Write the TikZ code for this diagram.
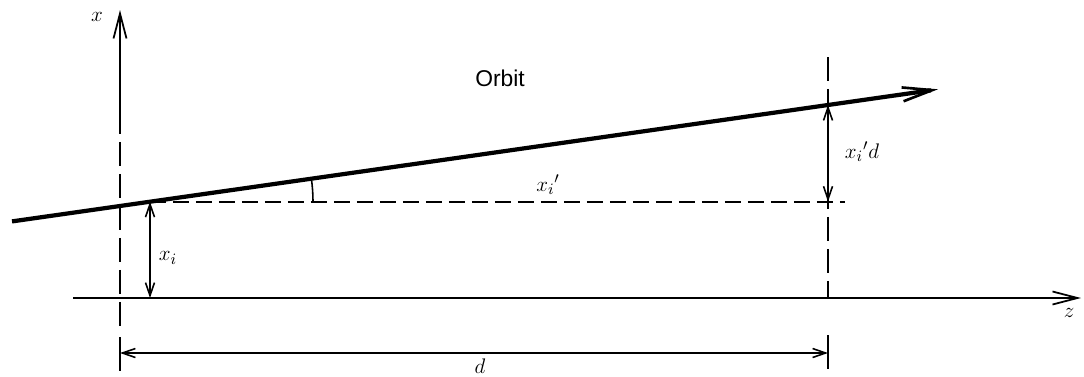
\documentclass[tikz,border=0pt]{standalone}
\usepackage{amsmath}
\usepackage{fontspec}
\newfontfamily\orbitfont{Liberation Sans}
\usetikzlibrary{arrows.meta,calc}
\tikzset{
  >={Straight Barb[length=2.6mm,width=1.8mm]},
  axis/.style={line width=1pt,-{Straight Barb[length=5mm,width=2.6mm]}},
  orbitline/.style={line width=2.4pt,-{Straight Barb[length=6mm,width=2.8mm,line width=1.5pt]}},
  guide/.style={line width=1pt,dash pattern=on 4.8mm off 1.6mm},
  level/.style={line width=1pt,dash pattern=on 3.2mm off 1.4mm},
  dim/.style={<->,line width=0.9pt},
  tickmark/.style={line width=0.9pt},
  lbl/.style={font=\fontsize{13}{15}\selectfont,inner sep=1pt},
}
\begin{document}
\begin{tikzpicture}[x=0.02cm,y=-0.02cm]
  \useasboundingbox (0,0) rectangle (1084,376);
  % ---- axes ----
  \coordinate (xbot) at (120,110);
  \coordinate (xtop) at (120,10);
  \coordinate (zleft) at (73,298);
  \coordinate (zright) at (1081,298);
  \draw[axis] (xbot) -- (xtop);
  \draw[axis] (zleft) -- (zright);
  \node[lbl] (xlab) at (97,17) {$x$};
  \node[lbl] (zlab) at (1069,313) {$z$};
  % ---- orbit ----
  \coordinate (ostart) at (12,221.4);
  \coordinate (oend) at (938,89.3);
  \draw[orbitline] (ostart) -- (oend);
  \node[font=\orbitfont\fontsize{13}{15}\selectfont] (orbit) at (500,78) {Orbit};
  \coordinate (pi) at (150,201.7);
  \coordinate (qi) at (828,105);
  \coordinate (ri) at (828,201.7);
  \coordinate (rend) at (845,201.7);
  % ---- guide lines ----
  \coordinate (lgtop) at (120,110);
  \coordinate (lgbot) at (120,332);
  \coordinate (rgtop) at (828,57);
  \coordinate (rgbot) at (828,298);
  \draw[guide] (lgtop) -- (lgbot);
  \draw[guide] (rgtop) -- (rgbot);
  \draw[level] (pi) -- (rend);
  % ---- angle ----
  \coordinate (a0) at (313,201.7);
  \draw[tickmark] (a0) arc[start angle=0,end angle=-8.1,radius=163];
  \node[lbl] (slope) at (548,185) {$x_i{}'$};
  % ---- dimensions ----
  \coordinate (dl) at (120,353);
  \coordinate (dr) at (828,353);
  \draw[tickmark] ($(dl)+(0,-16)$) -- ($(dl)+(0,18)$);
  \draw[tickmark] ($(dr)+(0,-18)$) -- ($(dr)+(0,16)$);
  \draw[dim] (pi) -- (pi |- zleft);
  \draw[dim] (qi) -- (ri);
  \draw[dim] (dl) -- (dr);
  \node[lbl] (xilab) at (168,258) {$x_i$};
  \node[lbl] (rise) at (862,152) {$x_i{}'d$};
  \node[lbl] (dlab) at (480,366) {$d$};
\end{tikzpicture}
\end{document}
